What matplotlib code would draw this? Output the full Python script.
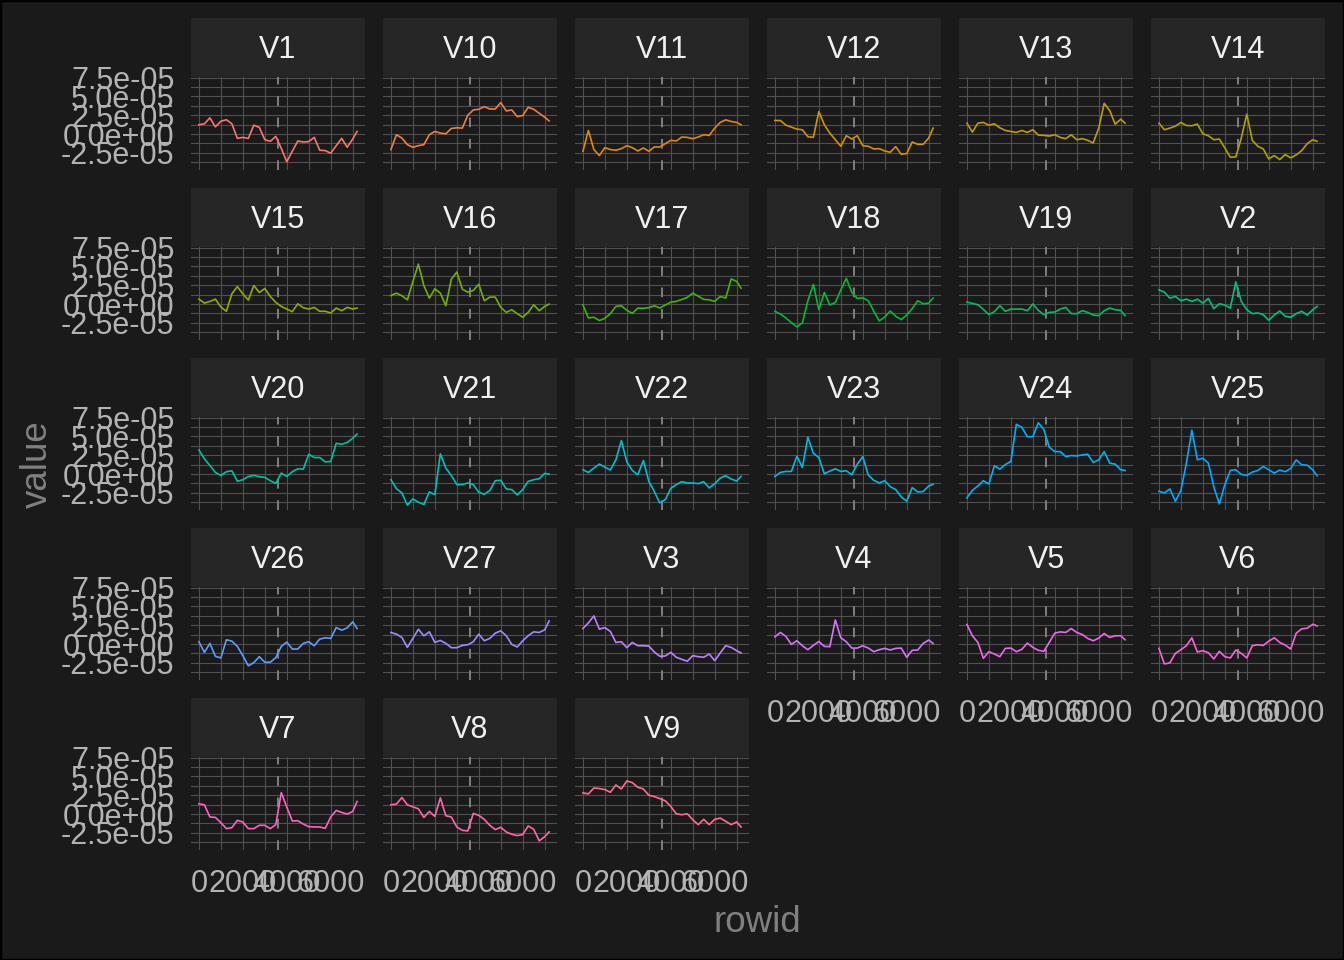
import numpy as np
import matplotlib
matplotlib.use("Agg")
import matplotlib.pyplot as plt
from matplotlib.patches import Rectangle

# ---------------- data (values in units of 1e-05) ----------------
rowid = list(range(0, 7001, 250)) + [7200]
change_row = 3600

v1 = [1.23, 1.36, 2.15, 0.96, 1.7, 1.9, 1.36, -0.57, -0.44, -0.57, 1.18, 0.88, -0.75, -0.96, -0.31,
      -1.89, -3.68, -2.28, -0.92, -1.05, -1.0, -0.44, -2.15, -2.19, -2.54, -1.54, -0.57, -1.75, -0.66, 0.35]
v10 = [-2.06, -0.09, -0.53, -1.4, -1.75, -1.54, -1.4, -0.09, 0.35, 0.13, 0.04, 0.75, 0.83, 0.79, 2.5,
       3.2, 3.29, 3.64, 3.33, 3.33, 4.17, 3.07, 3.2, 2.32, 2.46, 3.55, 3.29, 2.76, 2.24, 1.75]
v11 = [-2.28, 0.48, -2.06, -2.85, -1.8, -2.06, -2.15, -1.93, -1.54, -1.8, -2.24, -1.84, -2.28, -1.71, -1.71,
       -1.27, -0.83, -0.92, -0.39, -0.44, -0.61, -0.39, -0.09, -0.18, 0.79, 1.54, 1.89, 1.67, 1.54, 1.23]
v12 = [1.8, 1.8, 1.18, 0.92, 0.66, 0.57, -0.35, -0.44, 2.98, 1.23, 0.13, -0.75, -1.62, -0.22, -0.66,
       -0.22, -1.54, -1.62, -1.97, -1.93, -2.24, -2.41, -1.67, -2.68, -2.59, -1.05, -1.36, -1.36, -0.53, 0.79]
v13 = [1.45, 0.26, 1.45, 1.54, 1.18, 1.36, 0.83, 0.48, 0.35, 0.22, 0.48, 0.22, 0.57, -0.13, -0.18,
       -0.26, -0.09, -0.44, -0.61, -0.09, -0.75, -0.61, -0.83, -1.18, 0.79, 4.08, 3.11, 1.32, 1.97, 1.45]
v14 = [1.45, 0.57, 0.79, 1.05, 1.54, 1.14, 1.1, 1.32, 0.04, -0.22, -0.75, -0.66, -1.84, -3.07, -3.03,
       -0.53, 2.63, -0.83, -1.62, -1.97, -3.29, -2.85, -3.38, -2.72, -3.16, -2.76, -2.19, -1.27, -0.75, -0.96]
v15 = [0.66, 0.13, 0.35, 0.66, -0.39, -0.96, 1.36, 2.32, 1.36, 0.53, 2.46, 1.54, 2.06, 1.01, 0.22,
       -0.31, -0.66, -1.01, 0.04, -0.48, -0.66, -0.44, -0.96, -0.96, -1.18, -0.53, -0.88, -0.44, -0.66, -0.53]
v16 = [1.14, 1.45, 1.1, 0.57, 2.98, 5.3, 2.46, 0.79, 2.02, 1.45, -0.22, 3.29, 4.25, 1.97, 1.58,
       1.8, 2.63, 0.44, 0.92, 0.92, -0.44, -1.1, -0.75, -1.27, -1.75, -1.1, -0.09, -0.88, -0.31, 0.0]
v17 = [-0.09, -1.84, -1.75, -2.19, -1.89, -1.27, -0.31, -0.22, -0.83, -1.23, -0.53, -0.57, -0.48, -0.22, -0.53,
       -0.13, 0.26, 0.35, 0.61, 0.88, 1.45, 1.05, 0.61, 0.57, 0.35, 1.01, 0.79, 3.35, 3.0, 2.1]
v18 = [-0.96, -1.32, -1.84, -2.46, -3.03, -2.5, 0.44, 2.6, -0.75, 1.54, -0.13, 0.22, 1.89, 3.42, 1.54,
       0.75, 0.83, 0.44, -0.96, -2.24, -1.71, -0.92, -1.62, -2.06, -1.45, -0.61, 0.44, 0.04, 0.13, 0.79]
v19 = [0.26, 0.09, -0.09, -0.7, -1.4, -1.01, -0.22, -0.96, -0.66, -0.66, -0.66, -0.88, 0.0, -0.83, -1.4,
       -1.1, -1.05, -0.66, -0.44, -1.27, -1.27, -0.88, -1.1, -1.45, -1.54, -0.88, -0.53, -0.75, -0.83, -1.54]
v2 = [1.89, 1.58, 0.79, 1.01, 0.44, 0.66, 0.35, 0.66, 0.13, 0.75, -0.61, 0.04, -0.13, -0.53, 2.94,
      0.35, -0.75, -1.27, -1.18, -1.4, -2.15, -1.45, -0.92, -1.62, -1.75, -1.27, -0.96, -1.45, -0.75, -0.31]
v20 = [3.2, 2.02, 1.14, 0.22, -0.18, 0.31, 0.44, -0.96, -0.75, -0.31, -0.18, -0.35, -0.44, -0.88, -1.23,
       0.13, -0.31, 0.31, 0.7, 0.66, 2.63, 2.19, 2.19, 1.62, 1.67, 4.08, 3.95, 4.21, 4.74, 5.31]
v21 = [-0.75, -1.93, -2.5, -4.12, -3.29, -3.73, -4.04, -2.37, -2.72, 2.68, 0.79, -0.18, -1.4, -1.4, -1.18,
       -1.4, -2.41, -2.68, -2.19, -0.88, -0.83, -1.97, -2.06, -2.76, -2.06, -0.96, -0.75, -0.61, 0.09, 0.0]
v22 = [0.57, 0.22, 0.79, 1.32, 0.92, 0.53, 1.89, 4.45, 1.62, 0.48, -0.09, 1.8, -0.96, -2.32, -3.82,
       -3.38, -1.89, -1.4, -1.01, -1.18, -1.18, -1.27, -1.01, -1.84, -1.27, -0.53, -0.22, -0.66, -0.92, -0.31]
v23 = [-0.31, 0.22, 0.35, 0.35, 2.37, 0.88, 4.9, 2.76, 2.19, 0.04, 0.39, 0.7, 0.35, 0.44, -0.09,
       1.32, 2.32, -0.13, -0.83, -1.18, -0.88, -1.67, -2.06, -3.03, -3.6, -1.8, -2.37, -2.32, -1.58, -1.36]
v24 = [-3.16, -2.15, -1.58, -0.88, -1.32, 1.1, 0.66, 1.27, 1.67, 6.6, 6.2, 4.96, 4.96, 6.8, 5.92,
       3.55, 2.98, 2.98, 2.32, 2.46, 2.41, 2.54, 2.63, 1.54, 1.89, 2.98, 1.45, 1.32, 0.57, 0.48]
v25 = [-2.28, -2.5, -1.97, -3.6, -2.19, 1.45, 5.83, 1.89, 2.1, 1.45, -1.71, -3.95, -1.4, 0.48, 0.57,
       -0.04, -0.18, 0.26, 0.48, 1.01, 0.57, 0.13, 0.53, 0.31, 0.75, 1.89, 1.23, 1.18, 0.57, -0.22]
v26 = [0.31, -1.1, 0.09, -1.62, -1.84, 0.57, 0.39, -0.31, -1.54, -2.89, -2.46, -1.67, -2.41, -2.41, -1.8,
       -0.31, 0.26, -0.66, -0.66, 0.09, 0.31, -0.22, 0.66, 0.83, 0.75, 2.19, 1.84, 2.15, 2.94, 2.06]
v27 = [1.54, 1.32, 0.88, -0.44, 0.75, 1.97, 1.1, 1.62, 0.22, 0.48, 0.09, -0.48, -0.48, -0.18, -0.09,
       0.31, 1.32, 0.44, 0.75, 1.45, 1.75, 1.1, -0.04, -0.39, 0.44, 1.1, 1.62, 1.54, 1.89, 3.07]
v3 = [2.06, 2.81, 3.73, 1.97, 2.19, 1.67, 0.22, 0.31, -0.48, 0.22, -0.22, -0.22, -0.26, -1.05, -1.62,
      -1.58, -1.1, -1.75, -2.02, -2.28, -1.54, -1.67, -1.75, -1.32, -2.19, -1.18, -0.22, -0.44, -0.88, -1.18]
v4 = [0.96, 1.54, 1.01, -0.04, 0.44, -0.22, -0.75, -0.18, 0.35, -0.31, -0.35, 3.2, 0.83, 0.31, -0.53,
      -0.53, -0.22, -0.53, -1.01, -0.75, -0.57, -0.79, -0.57, -0.53, -1.75, -0.83, -0.79, 0.09, 0.53, 0.09]
v5 = [2.6, 1.1, 0.22, -1.89, -1.01, -1.32, -1.67, -0.57, -0.53, -1.01, -0.7, 0.13, -0.44, -0.83, -0.96,
      0.22, 1.45, 1.62, 1.54, 2.06, 1.54, 1.27, 0.75, 0.44, 0.79, 1.4, 0.88, 1.1, 1.1, 0.57]
v6 = [-0.57, -2.63, -2.5, -1.23, -0.75, -0.22, 0.83, -1.05, -0.88, -1.14, -1.97, -0.96, -1.67, -1.84, -0.79,
      -1.23, -1.84, -0.22, -0.09, -0.18, 0.39, 0.83, 0.22, -0.13, -0.66, 1.45, 2.02, 2.1, 2.63, 2.41]
v7 = [1.36, 1.23, -0.39, -0.44, -1.14, -1.93, -1.8, -0.83, -1.05, -1.93, -1.93, -1.49, -1.49, -1.93, -1.4,
      2.85, 0.92, -0.92, -0.88, -1.32, -1.67, -1.71, -1.71, -1.89, -0.39, 0.48, 0.22, 0.0, 0.35, 1.67]
v8 = [1.23, 1.32, 2.19, 1.23, 0.96, 0.7, -0.44, 0.35, -0.31, 2.15, -0.22, -0.39, -1.71, -2.15, -2.24,
      0.09, -0.18, -0.7, -1.49, -2.06, -1.75, -2.37, -2.68, -2.85, -2.72, -1.58, -2.02, -3.55, -3.0, -2.37]
v9 = [2.81, 2.68, 3.46, 3.38, 3.25, 2.89, 3.86, 3.33, 4.39, 4.17, 3.55, 3.33, 2.5, 2.32, 2.06,
      1.75, 1.01, 0.04, -0.09, 0.04, -0.75, -1.4, -0.7, -1.4, -0.7, -0.53, -0.96, -1.4, -1.05, -1.71]

series_names = ["V1", "V10", "V11", "V12", "V13", "V14", "V15", "V16", "V17", "V18", "V19", "V2",
                "V20", "V21", "V22", "V23", "V24", "V25", "V26", "V27", "V3", "V4", "V5", "V6",
                "V7", "V8", "V9"]
series_values = [v1, v10, v11, v12, v13, v14, v15, v16, v17, v18, v19, v2,
                 v20, v21, v22, v23, v24, v25, v26, v27, v3, v4, v5, v6, v7, v8, v9]
value_unit = 1e-05

y_ticks = [-2.5e-05, 0.0, 2.5e-05, 5.0e-05, 7.5e-05]
y_tick_labels = ["-2.5e-05", "0.0e+00", "2.5e-05", "5.0e-05", "7.5e-05"]
y_minor = [-3.75e-05, -1.25e-05, 1.25e-05, 3.75e-05, 6.25e-05]
x_ticks = [0, 2000, 4000, 6000]
x_tick_labels = ["0", "2000", "4000", "6000"]
x_minor = [1000, 3000, 5000, 7000]


# ---------------- colours (ggplot2 default hue palette) ----------------
def hcl_to_rgb(h, c, l):
    hr = np.deg2rad(h)
    U, V = c * np.cos(hr), c * np.sin(hr)
    XN, YN, ZN = 95.047, 100.0, 108.883
    Y = YN * ((l + 16) / 116) ** 3 if l > 8 else YN * l / 903.3
    uN = 4 * XN / (XN + 15 * YN + 3 * ZN)
    vN = 9 * YN / (XN + 15 * YN + 3 * ZN)
    u = U / (13 * l) + uN
    v = V / (13 * l) + vN
    X = 9.0 * Y * u / (4 * v)
    Z = -X / 3 - 5 * Y + 3 * Y / v
    X, Y, Z = X / 100, Y / 100, Z / 100
    r = 3.240479 * X - 1.537150 * Y - 0.498535 * Z
    g = -0.969256 * X + 1.875992 * Y + 0.041556 * Z
    b = 0.055648 * X - 0.204043 * Y + 1.057311 * Z

    def gam(x):
        x = 1.055 * x ** (1 / 2.4) - 0.055 if x > 0.0031308 else 12.92 * x
        return min(max(x, 0), 1)
    return (gam(r), gam(g), gam(b))


n = len(series_names)
colors = [hcl_to_rgb(15 + 360 * i / n, 100, 65) for i in range(n)]

BG = "#1a1a1a"
STRIP = "#262626"
GRID = "#505050"
TICK_COL = "#b3b3b3"
TITLE_COL = "#808080"
STRIP_TXT = "#f0f0f0"

plt.rcParams["font.family"] = ["Liberation Sans", "DejaVu Sans"]

W, H = 1344, 960
fig = plt.figure(figsize=(W / 100, H / 100), dpi=100, facecolor=BG)


def rect(l, t, w, h):
    return [l / W, 1 - (t + h) / H, w / W, h / H]


ncol = 6
LABEL_FS = 22
for i, (name, vals) in enumerate(zip(series_names, series_values)):
    r, c = divmod(i, ncol)
    left = 191 + 192 * c
    top = 77 + 170 * r
    ax = fig.add_axes(rect(left, top, 174, 92.5))
    ax.set_facecolor(BG)
    ax.set_xlim(-360, 7560)
    ax.set_ylim(-4.7e-05, 7.57e-05)
    ax.set_xticks(x_ticks)
    ax.set_xticks(x_minor, minor=True)
    ax.set_yticks(y_ticks)
    ax.set_yticks(y_minor, minor=True)
    ax.grid(which="both", color=GRID, linewidth=0.8)
    ax.set_axisbelow(True)
    for s in ax.spines.values():
        s.set_visible(False)
    ax.tick_params(which="both", length=0, colors=TICK_COL, labelsize=LABEL_FS)
    ax.tick_params(axis="y", pad=12.0)
    ax.tick_params(axis="x", pad=14.0)
    if c == 0:
        ax.set_yticklabels(y_tick_labels)
    else:
        ax.set_yticklabels([])
    last_in_col = (i + ncol >= n)
    if last_in_col:
        ax.set_xticklabels(x_tick_labels)
    else:
        ax.set_xticklabels([])
    ax.axvline(change_row, color="#808080", linestyle=(0, (5, 6)), linewidth=1.4)
    ax.plot(rowid, np.array(vals) * value_unit, color=colors[i], linewidth=1.2)

    sax = fig.add_axes(rect(left, 18 + 170 * r, 174, 59))
    sax.set_facecolor(STRIP)
    sax.set_xticks([])
    sax.set_yticks([])
    for s in sax.spines.values():
        s.set_visible(False)
    sax.text(0.5, 0.45, name, ha="center", va="center", fontsize=LABEL_FS,
             color=STRIP_TXT, transform=sax.transAxes)

fig.text(37 / W, 1 - 464 / H, "value", rotation=90, ha="center", va="center",
         fontsize=26.5, color=TITLE_COL)
fig.text(757 / W, 1 - 922 / H, "rowid", ha="center", va="center",
         fontsize=26.5, color=TITLE_COL)

fig.patches.append(Rectangle((0, 0), 1, 1, transform=fig.transFigure, fill=False,
                             edgecolor="black", linewidth=2.5))

fig.savefig("out.png", dpi=100, facecolor=BG)
